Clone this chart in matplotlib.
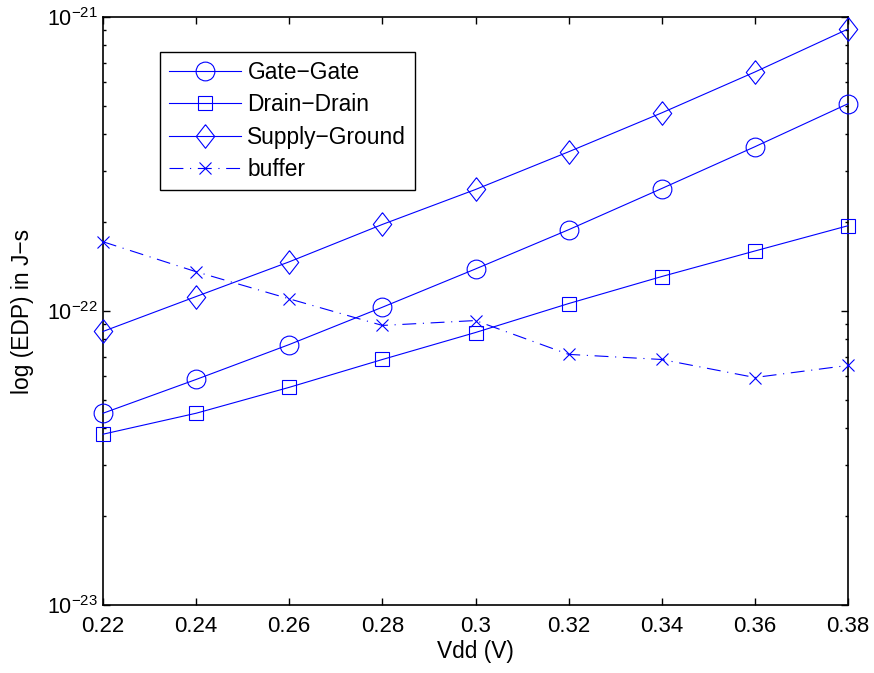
import matplotlib
matplotlib.use("Agg")
import matplotlib.pyplot as plt
import numpy as np
from matplotlib.ticker import FixedLocator, LogLocator, NullFormatter

plt.rcParams['font.family'] = ['Liberation Sans', 'DejaVu Sans']
plt.rcParams['mathtext.fontset'] = 'custom'
plt.rcParams['mathtext.rm'] = 'Liberation Sans'
plt.rcParams['mathtext.it'] = 'Liberation Sans:italic'
plt.rcParams['mathtext.bf'] = 'Liberation Sans:bold'

vdd = [0.22, 0.24, 0.26, 0.28, 0.30, 0.32, 0.34, 0.36, 0.38]
gate_gate = [4.49e-23, 5.85e-23, 7.69e-23, 1.03e-22, 1.39e-22, 1.89e-22, 2.61e-22, 3.62e-22, 5.07e-22]
drain_drain = [3.81e-23, 4.49e-23, 5.50e-23, 6.84e-23, 8.45e-23, 1.06e-22, 1.31e-22, 1.60e-22, 1.95e-22]
supply_ground = [8.52e-23, 1.12e-22, 1.47e-22, 1.97e-22, 2.59e-22, 3.48e-22, 4.72e-22, 6.50e-22, 9.10e-22]
buffer = [1.72e-22, 1.36e-22, 1.10e-22, 8.93e-23, 9.28e-23, 7.12e-23, 6.84e-23, 5.94e-23, 6.53e-23]

labels = ['Gate\u2212Gate', 'Drain\u2212Drain', 'Supply\u2212Ground', 'buffer']
xticks = [0.22, 0.24, 0.26, 0.28, 0.30, 0.32, 0.34, 0.36, 0.38]
xticklabels = ['0.22', '0.24', '0.26', '0.28', '0.3', '0.32', '0.34', '0.36', '0.38']

fig = plt.figure(figsize=(8.74, 6.73), dpi=100)
ax = fig.add_axes([103/874, 68/673, 745/874, 588/673])

blue = (0, 0, 1)
lw = 0.8
diamond = [(0, 1), (0.78, 0), (0, -1), (-0.78, 0), (0, 1)]

ax.plot(vdd, gate_gate, '-', color=blue, lw=lw, marker='o', ms=13.5,
        mfc='none', mec=blue, mew=lw, label=labels[0], clip_on=False)
ax.plot(vdd, drain_drain, '-', color=blue, lw=lw, marker='s', ms=10.7,
        mfc='none', mec=blue, mew=lw, label=labels[1], clip_on=False)
ax.plot(vdd, supply_ground, '-', color=blue, lw=lw, marker=diamond, ms=17,
        mfc='none', mec=blue, mew=lw, label=labels[2], clip_on=False)
ax.plot(vdd, buffer, color=blue, lw=lw, linestyle=(0, (12.5, 6, 1, 6)),
        marker='x', ms=9, mec=blue, mew=lw, label=labels[3], clip_on=False)

ax.set_yscale('log')
ax.set_xlim(0.22, 0.38)
ax.set_ylim(1e-23, 1e-21)
ax.xaxis.set_major_locator(FixedLocator(xticks))
ax.set_xticklabels(xticklabels)
ax.yaxis.set_major_locator(LogLocator(base=10, numticks=10))
ax.yaxis.set_minor_locator(LogLocator(base=10, subs=np.arange(2, 10), numticks=20))
ax.yaxis.set_minor_formatter(NullFormatter())

ax.tick_params(which='both', direction='in', top=True, right=True, width=1, color='black')
ax.tick_params(which='major', length=5)
ax.tick_params(which='minor', length=2.5)
ax.tick_params(axis='x', which='major', labelsize=16, pad=8)
ax.tick_params(axis='y', which='major', labelsize=15.5, pad=4)
for s in ax.spines.values():
    s.set_linewidth(1.2)
    s.set_zorder(1)

ax.set_xlabel('Vdd (V)', fontsize=16.4, labelpad=2)
ax.set_ylabel('log (EDP) in J\u2212s', fontsize=16.4, labelpad=9)

leg = ax.legend(loc='upper left', bbox_to_anchor=(0.0765, 0.9405), borderaxespad=0,
                fontsize=16.4, fancybox=False, framealpha=1, edgecolor='black',
                handlelength=3.16, handletextpad=0.3, labelspacing=0.42, borderpad=0.38)
leg.get_frame().set_linewidth(1.0)

fig.savefig('out.png', dpi=100)
